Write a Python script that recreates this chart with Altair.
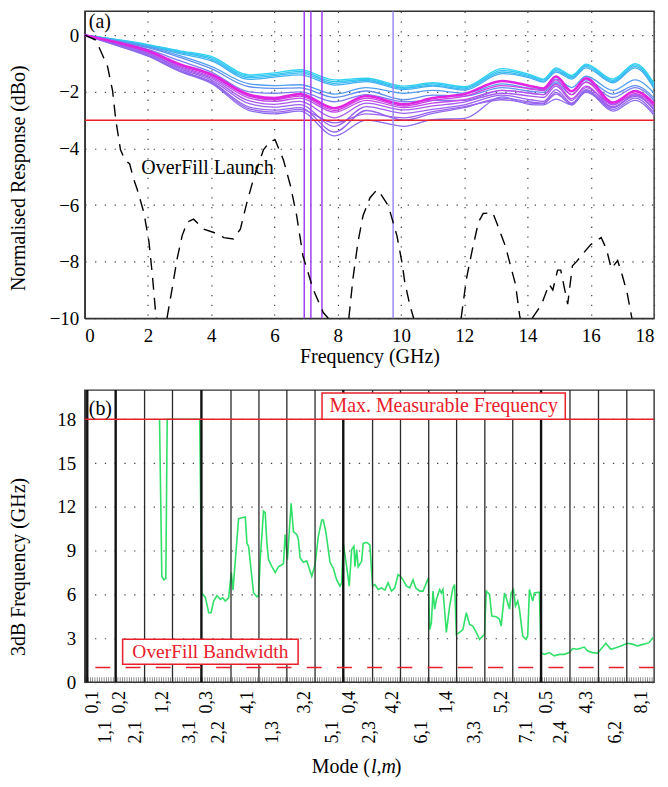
import altair as alt
import pandas as pd

FONT = "'Liberation Serif', 'Times New Roman', Times, 'DejaVu Serif', serif"

# ================= Panel (a): normalised responses =================
freq_nodes = [0, 1, 2, 3, 4, 5.2, 6.0, 6.8, 7.9, 8.9, 10.1, 11.0, 12.0,
              13.2, 14.1, 14.5, 14.9, 15.4, 15.85, 16.7, 17.4, 18]

resp_01 = [0, -0.15, -0.33, -0.55, -0.75, -1.40, -1.33, -1.22, -1.58, -1.52, -1.80, -1.68, -1.82, -1.18, -1.40, -1.55, -1.15, -1.42, -1.02, -1.55, -1.00, -1.70]
resp_02 = [0, -0.16, -0.35, -0.58, -0.80, -1.45, -1.38, -1.28, -1.64, -1.56, -1.85, -1.72, -1.86, -1.24, -1.44, -1.58, -1.20, -1.46, -1.06, -1.60, -1.05, -1.76]
resp_03 = [0, -0.17, -0.37, -0.61, -0.85, -1.50, -1.43, -1.33, -1.70, -1.60, -1.88, -1.76, -1.90, -1.30, -1.48, -1.62, -1.25, -1.50, -1.10, -1.64, -1.10, -1.82]
resp_04 = [0, -0.18, -0.39, -0.65, -0.90, -1.56, -1.48, -1.40, -1.76, -1.64, -1.92, -1.80, -1.94, -1.36, -1.52, -1.66, -1.30, -1.55, -1.15, -1.68, -1.15, -1.88]
resp_05 = [0, -0.19, -0.41, -0.72, -1.10, -1.72, -1.78, -1.75, -2.08, -1.85, -2.05, -1.95, -2.05, -1.72, -1.88, -1.92, -1.55, -1.85, -1.45, -1.95, -1.58, -2.05]
resp_06 = [0, -0.21, -0.44, -0.78, -1.18, -1.82, -1.88, -1.86, -2.20, -1.97, -2.28, -2.12, -2.15, -1.85, -1.98, -2.02, -1.65, -1.98, -1.58, -2.08, -1.78, -2.22]
resp_07 = [0, -0.24, -0.50, -0.90, -1.30, -2.00, -2.05, -2.00, -2.35, -2.10, -2.35, -2.30, -2.30, -1.95, -2.05, -2.10, -1.70, -2.10, -1.65, -2.20, -1.85, -2.30]
resp_08 = [0, -0.26, -0.57, -1.06, -1.42, -2.16, -2.28, -2.15, -2.66, -2.22, -2.50, -2.30, -2.16, -1.78, -1.90, -1.96, -1.58, -2.10, -1.66, -2.46, -2.06, -2.52]
resp_09 = [0, -0.27, -0.59, -1.10, -1.47, -2.22, -2.34, -2.22, -2.72, -2.30, -2.56, -2.40, -2.28, -1.95, -2.05, -2.10, -1.74, -2.24, -1.80, -2.55, -2.12, -2.62]
resp_10 = [0, -0.29, -0.63, -1.14, -1.52, -2.32, -2.44, -2.34, -2.92, -2.40, -2.64, -2.50, -2.36, -2.05, -2.15, -2.20, -1.80, -2.30, -1.85, -2.45, -1.95, -2.50]
resp_11 = [0, -0.31, -0.66, -1.18, -1.58, -2.42, -2.54, -2.45, -3.22, -2.52, -2.76, -2.62, -2.46, -2.12, -2.28, -2.34, -1.92, -2.40, -1.92, -2.56, -2.10, -2.65]
resp_12 = [0, -0.33, -0.70, -1.23, -1.64, -2.54, -2.65, -2.56, -3.42, -2.66, -3.00, -2.76, -2.56, -2.22, -2.36, -2.40, -2.02, -2.46, -1.96, -2.62, -2.22, -2.75]
resp_13 = [0, -0.35, -0.72, -1.26, -1.67, -2.60, -2.72, -2.62, -3.10, -2.78, -2.92, -2.70, -2.52, -2.28, -2.40, -2.42, -2.08, -2.42, -2.02, -2.52, -2.16, -2.60]
resp_14 = [0, -0.36, -0.74, -1.28, -1.70, -2.66, -2.78, -2.68, -3.56, -3.00, -3.22, -2.98, -2.94, -2.18, -2.45, -2.46, -2.26, -2.46, -1.97, -2.68, -2.30, -2.82]
resp_bold = [0, -0.25, -0.55, -1.02, -1.38, -2.10, -2.22, -2.08, -2.58, -2.15, -2.44, -2.22, -2.08, -1.62, -1.80, -1.88, -1.46, -1.98, -1.52, -2.38, -1.98, -2.42]

resp_colors = ["#2FD2F2", "#33C8F2", "#38BEF2", "#42B0F2", "#529EF0", "#628EF0",
               "#7A80F0", "#CE3CE4", "#BE4AEA", "#A858EE", "#9C60EE", "#9466EE",
               "#9A62EE", "#8C6CEE"]
bold_color = "#E024E0"

# OverFill launch response (dashed), split where it leaves the -10 dB floor
ofl_freq_1 = [0, 0.35, 0.72, 0.88, 0.98, 1.13, 1.27, 1.42, 1.55, 1.66, 1.87, 2.03, 2.14, 2.24, 2.27]
ofl_db_1 = [0, -0.17, -1.1, -1.97, -2.99, -4.05, -4.4, -4.55, -5.1, -5.45, -6.27, -7.3, -8.5, -9.8, -10]
ofl_freq_2 = [2.6, 2.76, 2.92, 3.08, 3.24, 3.44, 3.76, 4.08, 4.4, 4.7, 4.92, 5.13, 5.33, 5.65, 5.87, 6.02, 6.28, 6.5, 6.7, 6.9, 7.22, 7.54, 7.7]
ofl_db_2 = [-10, -8.97, -7.9, -7.08, -6.6, -6.5, -6.85, -6.97, -7.15, -7.2, -6.85, -5.9, -5.1, -4.05, -3.74, -3.7, -4.4, -5.3, -6.37, -7.8, -8.97, -9.8, -10]
ofl_freq_3 = [8.35, 8.48, 8.64, 8.8, 9.02, 9.24, 9.35, 9.6, 9.87, 10.03, 10.12, 10.28, 10.4]
ofl_db_3 = [-10, -8.6, -7.3, -6.37, -5.74, -5.46, -5.6, -6.03, -7.08, -8.03, -8.73, -9.54, -10]
ofl_freq_4 = [11.9, 12.07, 12.25, 12.45, 12.6, 12.9, 13.05, 13.3, 13.5, 13.62, 13.75, 13.77]
ofl_db_4 = [-10, -8.6, -7.6, -6.6, -6.3, -6.27, -6.7, -7.45, -8.3, -8.8, -9.9, -10]
ofl_freq_5 = [14.15, 14.45, 14.68, 14.8, 14.95, 15.05, 15.27, 15.42, 15.55, 15.73, 16.0, 16.33, 16.5, 16.65, 16.85, 17.0, 17.15, 17.3]
ofl_db_5 = [-10, -9.5, -8.8, -9.0, -8.3, -8.3, -9.5, -8.15, -8.0, -7.75, -7.4, -7.15, -7.57, -8.25, -7.96, -8.5, -9.1, -10]

marker_freq_violet = [6.94, 7.15, 7.5]
marker_freq_lavender = [9.75]
limit_db = -3

# ================= Panel (b): 3 dB frequency per launch position =================
green_pos = [75, 77.3, 79.3, 81.3, 82.7, 115.3, 117.3, 121, 124.3, 126.7,
             129.3, 132.7, 136, 138.3, 141, 144.3, 147, 148.7, 154.3, 161,
             162.7, 164.3, 169.3, 172.7, 174.3, 176, 179.3, 181, 182.7, 184.3,
             187.7, 191, 194.3, 199.3, 201, 203.3, 207, 209.3, 212.7, 214.3,
             216, 219.3, 222.7, 227.7, 231, 234.3, 237.7, 239.3, 242, 246,
             249.3, 252.7, 256, 257.7, 259.3, 262.7, 265.3, 267.7, 270, 271,
             272.7, 274.3, 277.7, 279.3, 282.7, 286, 288.7, 291, 294.3, 297.7,
             301, 304.3, 307.7, 311, 314.3, 316.7, 319.3, 322.7, 326, 329.3,
             332, 336, 339.3, 342.7, 344.7, 346, 347.7, 349.3, 351, 352.7,
             356, 357.7, 359.3, 362.7, 366, 369.3, 371, 372.7, 376, 379.3,
             382.7, 386, 389.3, 392.7, 396, 399.3, 401, 402.7, 406, 408.3,
             412.7, 416, 417.7, 421, 423.3, 426, 427.7, 430, 432, 434.3,
             436, 439.3, 442.7, 444.3, 446, 449.3, 451, 456, 457.7, 461,
             466, 471, 476, 481, 486, 489.3, 494.3, 501, 504.3, 509.3,
             514.3, 517.7, 522.7, 527.7, 532.7, 537.7, 544.3, 549.3, 554.3, 561,
             566, 570]
green_ghz = [18, 7.25, 7.0, 7.1, 18, 18, 6.1, 5.8, 4.75, 4.75,
             5.55, 5.93, 5.66, 5.77, 5.55, 5.77, 7.5, 6.3, 11.2, 11.3,
             9.5, 9.3, 6.1, 5.85, 5.9, 8.4, 11.7, 11.6, 9.5, 8.4,
             7.9, 7.5, 7.9, 8.1, 10.1, 8.4, 12.25, 10.3, 10.1, 9.75,
             8.5, 8.2, 8.3, 7.25, 8.05, 10.0, 11.1, 11.1, 10.2, 8.2,
             7.8, 7.0, 6.57, 6.8, 9.5, 7.9, 6.57, 9.07, 9.3, 7.9,
             9.07, 7.9, 8.27, 9.5, 9.57, 9.4, 6.57, 6.68, 6.34, 6.45,
             6.3, 6.8, 6.23, 6.45, 7.36, 7.25, 7.0, 6.57, 6.45, 7.0,
             6.45, 6.23, 6.23, 6.8, 7.14, 3.6, 4.07, 6.23, 5.0, 5.66,
             6.34, 6.1, 6.34, 3.4, 5.2, 6.45, 6.68, 3.27, 3.4, 3.6,
             4.75, 3.95, 3.84, 3.4, 2.93, 3.16, 3.27, 6.23, 6.0, 4.52,
             4.48, 4.3, 3.84, 6.1, 5.66, 5.0, 6.1, 6.34, 5.2, 5.55,
             5.0, 3.16, 2.93, 3.16, 6.34, 5.55, 6.1, 6.16, 2.02, 1.9,
             2.02, 1.8, 1.9, 1.9, 2.02, 2.3, 2.25, 2.4, 2.14, 2.02,
             1.98, 2.25, 2.66, 2.25, 2.36, 2.48, 2.66, 2.6, 2.48, 2.6,
             2.7, 3.05]
assert len(green_pos) == len(green_ghz)

sep_pos = [2.5, 31, 60, 88, 117, 146.7, 174.7, 202.7, 231, 259.3,
           288.7, 316.7, 345, 373, 401.3, 429.3, 457.7, 486.7, 515.3, 543.7]
sep_thick = [True, True, False, False, True, False, False, False, False, True,
             False, False, False, False, False, False, True, False, False, False]

mode_names = ["0,1", "1,1", "0,2", "2,1", "1,2", "3,1", "0,3", "2,2", "4,1", "1,3",
              "3,2", "5,1", "0,4", "2,3", "4,2", "6,1", "1,4", "3,3", "5,2", "7,1",
              "0,5", "2,4", "4,3", "6,2", "8,1"]
mode_pos = [8, 21, 35, 51, 78, 106, 123, 135, 164, 189,
            221, 249, 266, 286, 309, 338, 363, 391, 419, 444,
            464, 478, 504, 533, 559]
mode_row = [1, 2, 1, 2, 1, 2, 1, 2, 1, 2, 1, 2, 1, 2, 1, 2, 1, 2, 1, 2, 1, 2, 1, 2, 1]

max_measurable_ghz = 18
overfill_bw_ghz = 1.0

# ---------------- build tables ----------------
resp_list = [resp_01, resp_02, resp_03, resp_04, resp_05, resp_06, resp_07,
             resp_08, resp_09, resp_10, resp_11, resp_12, resp_13, resp_14]
rows = []
for i, vals in enumerate(resp_list):
    for f, v in zip(freq_nodes, vals):
        rows.append({"f": f, "v": v, "curve": f"c{i:02d}"})
df_resp = pd.DataFrame(rows)
df_bold = pd.DataFrame({"f": freq_nodes, "v": resp_bold})

ofl_rows = []
for s, (fs, vs) in enumerate([(ofl_freq_1, ofl_db_1), (ofl_freq_2, ofl_db_2),
                              (ofl_freq_3, ofl_db_3), (ofl_freq_4, ofl_db_4),
                              (ofl_freq_5, ofl_db_5)]):
    for f, v in zip(fs, vs):
        ofl_rows.append({"f": f, "v": v, "seg": s})
df_ofl = pd.DataFrame(ofl_rows)

df_green = pd.DataFrame({"p": green_pos, "g": green_ghz})
df_sep = pd.DataFrame({"p": sep_pos, "thick": sep_thick})
df_modes = pd.DataFrame({"p": mode_pos, "mode": mode_names, "row": mode_row})
df_hatch = pd.DataFrame({"p": [round(1 + i * 2.3, 1) for i in range(248)]})
one = pd.DataFrame({"k": [0]})

W = 571
H_TOP = 308
H_BOT = 293

# ---------------- panel (a) ----------------
xa = alt.X("f:Q", scale=alt.Scale(domain=[0, 18], nice=False, zero=False),
           axis=alt.Axis(values=list(range(0, 19, 2)), title="Frequency (GHz)",
                         titleY=38, titleBaseline="middle", labelPadding=8,
                         grid=True))
ya = alt.Y("v:Q", scale=alt.Scale(domain=[-10, 0.85], nice=False, zero=False),
           axis=alt.Axis(values=[0, -2, -4, -6, -8, -10],
                         title="Normalised Response (dBo)",
                         titleX=-66, titleY=167, titleBaseline="middle",
                         labelPadding=6, grid=True))

curves = alt.Chart(df_resp).mark_line(strokeWidth=1.3, interpolate="monotone").encode(
    x=xa, y=ya, detail="curve:N",
    color=alt.Color("curve:N", scale=alt.Scale(domain=[f"c{i:02d}" for i in range(14)],
                                               range=resp_colors), legend=None))
bold = alt.Chart(df_bold).mark_line(strokeWidth=2.6, interpolate="monotone",
                                    color=bold_color).encode(x="f:Q", y="v:Q")
limit_rule = alt.Chart(pd.DataFrame({"v": [limit_db]})).mark_rule(
    color="#E8202A", strokeWidth=1.5).encode(y="v:Q")
vlines1 = alt.Chart(pd.DataFrame({"f": marker_freq_violet})).mark_rule(
    color="#A040F0", strokeWidth=1.5).encode(x="f:Q")
vlines2 = alt.Chart(pd.DataFrame({"f": marker_freq_lavender})).mark_rule(
    color="#9A8AF2", strokeWidth=1.5).encode(x="f:Q")
ofl = alt.Chart(df_ofl).mark_line(color="black", strokeWidth=1.4,
                                  strokeDash=[12, 8]).encode(
    x="f:Q", y="v:Q", detail="seg:N", order="f:Q")
ofl_text = alt.Chart(one).mark_text(text="OverFill Launch", font=FONT, fontSize=20,
                                    align="center", baseline="middle").encode(
    x=alt.datum(3.88), y=alt.datum(-4.68))
a_text = alt.Chart(one).mark_text(text="(a)", font=FONT, fontSize=20, align="left",
                                  baseline="middle").encode(
    x=alt.value(4), y=alt.value(11))

top = alt.layer(curves, bold, limit_rule, vlines1, vlines2, ofl, ofl_text, a_text).properties(
    width=W, height=H_TOP)

# ---------------- panel (b) ----------------
xb = alt.X("p:Q", scale=alt.Scale(domain=[0, W], nice=False, zero=False), axis=None)
yb = alt.Y("g:Q", scale=alt.Scale(domain=[0, 20], nice=False, zero=False),
           axis=alt.Axis(values=[0, 3, 6, 9, 12, 15, 18], title="3dB Frequency (GHz)",
                         titleX=-66, titleY=177, titleBaseline="middle",
                         labelPadding=9, grid=True))

green = alt.Chart(df_green).mark_line(color="#30E068", strokeWidth=1.6).encode(
    x=xb, y=yb)
hatch = alt.Chart(df_hatch).mark_tick(color="#222", thickness=0.7, size=5).encode(
    x="p:Q", y=alt.value(H_BOT - 2.5))
sep_thin = alt.Chart(df_sep).transform_filter("!datum.thick").mark_rule(
    color="#2a2a2a", strokeWidth=1.3).encode(x="p:Q")
sep_bold = alt.Chart(df_sep).transform_filter("datum.thick").mark_rule(
    color="#111", strokeWidth=2.4).encode(x="p:Q")
max_rule = alt.Chart(pd.DataFrame({"g": [max_measurable_ghz]})).mark_rule(
    color="#E8202A", strokeWidth=1.5).encode(y="g:Q")
bw_rule = alt.Chart(pd.DataFrame({"g": [overfill_bw_ghz]})).mark_rule(
    color="#E8202A", strokeWidth=1.6, strokeDash=[15, 15.3]).encode(y="g:Q")
box_max = alt.Chart(one).mark_rect(fill="white", stroke="#E8202A", strokeWidth=1.5).encode(
    x=alt.datum(238), x2=alt.datum(482), y=alt.datum(19.8), y2=alt.datum(18.0))
txt_max = alt.Chart(one).mark_text(text="Max. Measurable Frequency", font=FONT,
                                   fontSize=20, color="#E8202A", align="center",
                                   baseline="middle").encode(
    x=alt.datum(360), y=alt.datum(18.9))
box_bw = alt.Chart(one).mark_rect(fill="white", stroke="#E8202A", strokeWidth=1.5).encode(
    x=alt.datum(38), x2=alt.datum(214), y=alt.datum(2.93), y2=alt.datum(1.23))
txt_bw = alt.Chart(one).mark_text(text="OverFill Bandwidth", font=FONT, fontSize=19.5,
                                  color="#E8202A", align="center",
                                  baseline="middle").encode(
    x=alt.datum(126), y=alt.datum(2.08))
b_text = alt.Chart(one).mark_text(text="(b)", font=FONT, fontSize=20, align="left",
                                  baseline="middle").encode(
    x=alt.datum(4), y=alt.datum(18.7))
labels_r1 = alt.Chart(df_modes).transform_filter("datum.row == 1").mark_text(
    angle=270, align="right", baseline="middle", font=FONT, fontSize=18).encode(
    x="p:Q", y=alt.value(302), text="mode:N")
labels_r2 = alt.Chart(df_modes).transform_filter("datum.row == 2").mark_text(
    angle=270, align="right", baseline="middle", font=FONT, fontSize=18).encode(
    x="p:Q", y=alt.value(332), text="mode:N")
t1 = alt.Chart(one).mark_text(text="Mode (", font=FONT, fontSize=20, align="right",
                              baseline="middle").encode(x=alt.datum(286), y=alt.value(378))
t2 = alt.Chart(one).mark_text(text="l,m", font=FONT, fontSize=20, fontStyle="italic",
                              align="left", baseline="middle").encode(
    x=alt.datum(287), y=alt.value(378))
t3 = alt.Chart(one).mark_text(text=")", font=FONT, fontSize=20, align="left",
                              baseline="middle").encode(x=alt.datum(311), y=alt.value(378))

bottom = alt.layer(green, hatch, sep_thin, sep_bold, max_rule, bw_rule, box_max, txt_max,
                   box_bw, txt_bw, b_text, labels_r1, labels_r2, t1, t2, t3).properties(
    width=W, height=H_BOT)

chart = alt.vconcat(top, bottom, spacing=21).properties(padding=0).configure(
    font=FONT
).configure_view(
    stroke="#333", strokeWidth=1.4
).configure_axis(
    labelFont=FONT, labelFontSize=19, labelColor="black",
    titleFont=FONT, titleFontSize=20, titleFontWeight="normal", titleColor="black",
    ticks=False, domainColor="#333", domainWidth=1.4,
    gridColor="#444", gridDash=[1.3, 8.5], gridWidth=1.2, gridOpacity=1
)

chart.save("out.html", embed_options={"renderer": "svg", "actions": False})
